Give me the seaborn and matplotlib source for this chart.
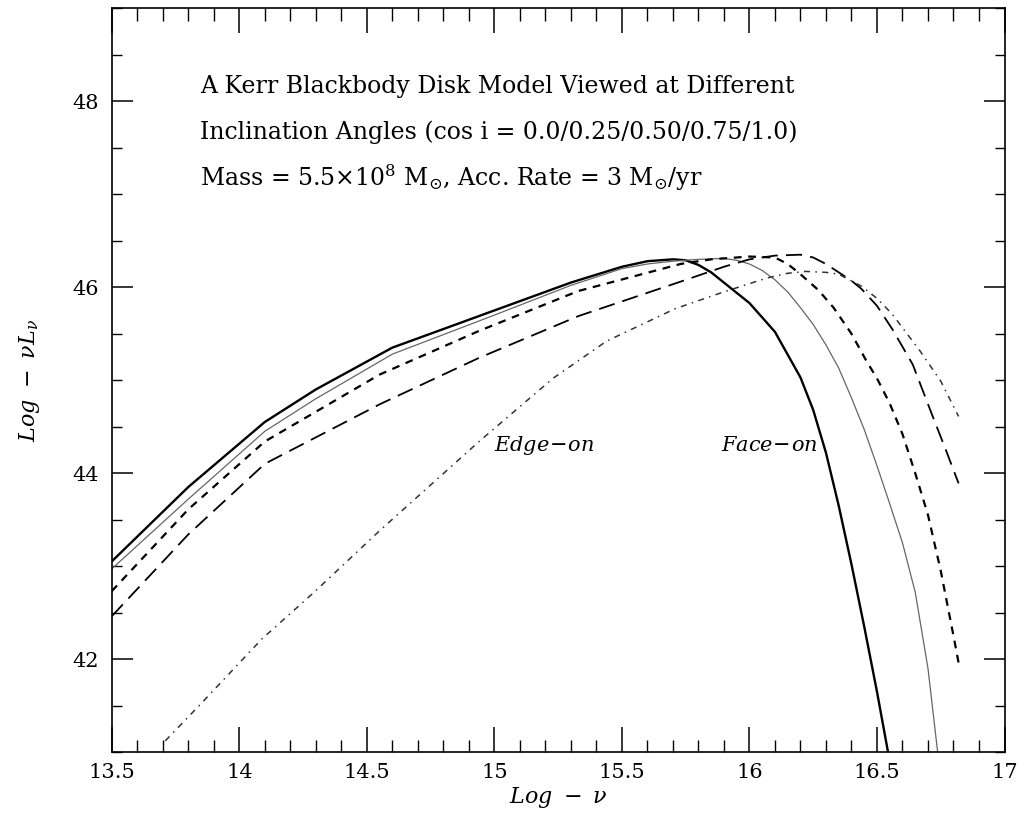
import numpy as np
import pandas as pd
import seaborn as sns
import matplotlib
matplotlib.use("Agg")
import matplotlib.pyplot as plt
from matplotlib.ticker import MultipleLocator

# ---- data (log nu, log nuL_nu) ----
x_face = [13.5, 13.8, 14.1, 14.3, 14.6, 15.0, 15.3, 15.5, 15.6, 15.7, 15.75, 15.8, 15.85, 15.9, 16.0, 16.1, 16.2, 16.25, 16.3, 16.35, 16.4, 16.45, 16.5, 16.55]
y_face = [43.05, 43.85, 44.55, 44.9, 45.35, 45.75, 46.05, 46.22, 46.28, 46.30, 46.29, 46.24, 46.16, 46.05, 45.83, 45.52, 45.03, 44.68, 44.22, 43.65, 43.02, 42.35, 41.65, 40.9]

x_075 = [13.5, 13.8, 14.1, 14.3, 14.6, 15.0, 15.3, 15.5, 15.6, 15.7, 15.8, 15.9, 15.95, 16.0, 16.05, 16.1, 16.15, 16.2, 16.25, 16.3, 16.35, 16.4, 16.45, 16.5, 16.55, 16.6, 16.65, 16.7, 16.74]
y_075 = [42.97, 43.72, 44.45, 44.80, 45.28, 45.70, 46.02, 46.20, 46.25, 46.28, 46.30, 46.31, 46.29, 46.25, 46.18, 46.08, 45.95, 45.78, 45.60, 45.38, 45.13, 44.81, 44.47, 44.08, 43.67, 43.25, 42.72, 41.9, 40.95]

x_050 = [13.5, 13.8, 14.1, 14.55, 14.94, 15.33, 15.73, 15.85, 16.0, 16.1, 16.15, 16.2, 16.27, 16.33, 16.4, 16.46, 16.5, 16.55, 16.6, 16.65, 16.7, 16.75, 16.8, 16.82]
y_050 = [42.73, 43.61, 44.34, 45.06, 45.53, 45.96, 46.25, 46.30, 46.33, 46.32, 46.25, 46.14, 45.97, 45.78, 45.50, 45.20, 45.02, 44.75, 44.42, 44.0, 43.55, 42.95, 42.25, 41.96]

x_025 = [13.5, 13.8, 14.1, 14.55, 14.94, 15.33, 15.73, 15.9, 16.0, 16.1, 16.2, 16.25, 16.3, 16.35, 16.4, 16.44, 16.5, 16.56, 16.64, 16.72, 16.77, 16.82]
y_025 = [42.46, 43.34, 44.10, 44.74, 45.24, 45.69, 46.06, 46.22, 46.30, 46.34, 46.35, 46.32, 46.25, 46.16, 46.07, 45.98, 45.80, 45.55, 45.17, 44.60, 44.25, 43.89]

x_edge = [13.71, 13.85, 14.09, 14.29, 14.55, 14.94, 15.23, 15.44, 15.71, 15.9, 16.07, 16.15, 16.22, 16.3, 16.35, 16.44, 16.5, 16.56, 16.67, 16.75, 16.82]
y_edge = [41.12, 41.52, 42.22, 42.71, 43.38, 44.34, 45.02, 45.42, 45.77, 45.95, 46.10, 46.15, 46.17, 46.16, 46.14, 46.01, 45.88, 45.71, 45.31, 44.99, 44.61]

cos_labels = ["1.0", "0.75", "0.50", "0.25", "0.0"]

title_lines = [
    "A Kerr Blackbody Disk Model Viewed at Different",
    "Inclination Angles (cos i = 0.0/0.25/0.50/0.75/1.0)",
    r"Mass = 5.5$\times$10$^{8}$ M$_{\odot}$, Acc. Rate = 3 M$_{\odot}$/yr",
]

sns.set_style("ticks")
plt.rcParams["font.family"] = ["DejaVu Serif"]
plt.rcParams["mathtext.fontset"] = "dejavuserif"
for k in ["text.color", "axes.labelcolor", "xtick.color", "ytick.color", "axes.edgecolor"]:
    plt.rcParams[k] = "black"

fig = plt.figure(figsize=(10.25, 8.19), dpi=100)
ax = fig.add_axes([0.109, 0.0818, 0.871, 0.908])

series = [
    (x_face, y_face, dict(color="black", lw=1.7, linestyle="-")),
    (x_075, y_075, dict(color="#666666", lw=0.9, linestyle="-")),
    (x_050, y_050, dict(color="black", lw=1.6, linestyle=(0, (3.5, 3.0)))),
    (x_025, y_025, dict(color="black", lw=1.3, linestyle=(0, (9, 4.5)))),
    (x_edge, y_edge, dict(color="#333333", lw=1.1, linestyle=(0, (4, 3.5, 1, 3.5)))),
]
for (xs, ys, kw), lab in zip(series, cos_labels):
    df = pd.DataFrame({"lognu": xs, "lognuLnu": ys})
    sns.lineplot(data=df, x="lognu", y="lognuLnu", ax=ax, estimator=None, sort=False, **kw)

ax.set_xlim(13.5, 17)
ax.set_ylim(41, 49)
ax.xaxis.set_major_locator(MultipleLocator(0.5))
ax.xaxis.set_minor_locator(MultipleLocator(0.1))
ax.yaxis.set_major_locator(MultipleLocator(2))
ax.yaxis.set_minor_locator(MultipleLocator(0.5))
ax.set_xticks([13.5, 14, 14.5, 15, 15.5, 16, 16.5, 17])
ax.set_xticklabels(["13.5", "14", "14.5", "15", "15.5", "16", "16.5", "17"])
ax.set_yticks([42, 44, 46, 48])
ax.tick_params(axis="x", which="major", direction="in", length=18, width=1.1, top=True, bottom=True, pad=8, labelsize=15)
ax.tick_params(axis="x", which="minor", direction="in", length=9, width=1.0, top=True, bottom=True)
ax.tick_params(axis="y", which="major", direction="in", length=15, width=1.1, left=True, right=True, pad=9, labelsize=15)
ax.tick_params(axis="y", which="minor", direction="in", length=7.5, width=1.0, left=True, right=True)
for s in ax.spines.values():
    s.set_linewidth(1.2)
    s.set_visible(True)

ax.set_xlabel(r"$Log\ -\ \nu$", fontsize=16, labelpad=2)
ax.set_ylabel(r"$Log\ -\ \nu L_{\nu}$", fontsize=16, labelpad=22)

for i, line in enumerate(title_lines):
    ax.text(13.845, 48.16 - i * 0.49, line, fontsize=17, ha="left", va="center")

ax.text(15.0, 44.3, r"$Edge\!-\!on$", fontsize=15, ha="left", va="center")
ax.text(15.89, 44.3, r"$Face\!-\!on$", fontsize=15, ha="left", va="center")

fig.savefig("out.png", dpi=100)
